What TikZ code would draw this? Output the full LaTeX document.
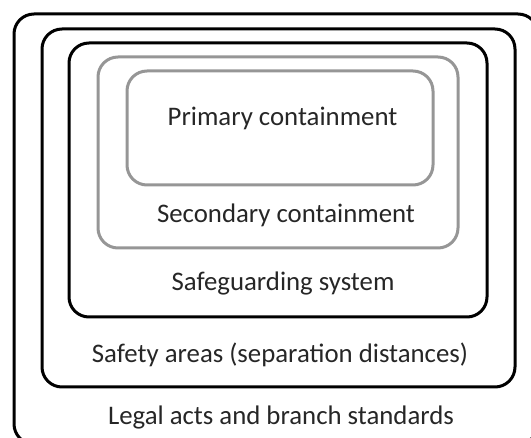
\documentclass[tikz,border=0pt]{standalone}
\usepackage{fontspec}
\setmainfont{Carlito}
\usepackage{xcolor}
\usepackage{tikz}
\usetikzlibrary{shapes,positioning}
\definecolor{boxgrey}{RGB}{150,150,150}
\definecolor{txtgrey}{RGB}{38,38,38}

\begin{document}
\begin{tikzpicture}[
    x=0.5pt, y=-0.5pt,
    box/.style={rectangle, draw=black, line width=1.5pt, rounded corners=10pt, inner sep=0pt},
    greybox/.style={box, draw=boxgrey},
    lbl/.style={anchor=base, font=\fontsize{13.4}{16}\selectfont, text=txtgrey, inner sep=0pt}
]
\clip (0,0) rectangle (531,438);

% Layers (outside in)
\node[box, minimum width=262pt, minimum height=215pt] (legal) at (276,229) {};
\node[box, minimum width=236.5pt, minimum height=179pt] (safety) at (278.5,208) {};
\node[box, minimum width=209pt, minimum height=137pt] (safeguard) at (278,180) {};
\node[greybox, minimum width=180pt, minimum height=95.5pt] (secondary) at (278,152.5) {};
\node[greybox, minimum width=153pt, minimum height=57pt] (primary) at (280,128) {};

% Labels
\node[lbl] (primarytxt) at (282.5,126) {Primary containment};
\node[lbl] (secondarytxt) at (286,223) {Secondary containment};
\node[lbl] (safeguardtxt) at (283,291) {Safeguarding system};
\node[lbl] (safetytxt) at (280,363) {Safety areas (separation distances)};
\node[lbl] (legaltxt) at (281,425) {Legal acts and branch standards};

\end{tikzpicture}
\end{document}
